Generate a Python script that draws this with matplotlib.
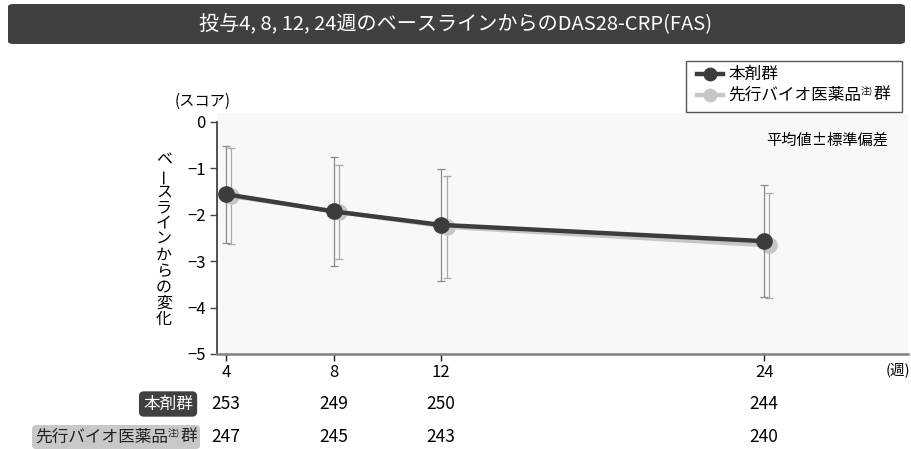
import matplotlib
matplotlib.use("Agg")
import matplotlib.pyplot as plt
import numpy as np
from matplotlib.patches import FancyBboxPatch, Rectangle
from matplotlib.lines import Line2D
from matplotlib.offsetbox import TextArea, HPacker, AnnotationBbox
from matplotlib.transforms import blended_transform_factory

plt.rcParams['font.family'] = ['Noto Sans CJK JP', 'DejaVu Sans']

# data
weeks = [4, 8, 12, 24]
drug_mean = [-1.56, -1.93, -2.22, -2.57]
drug_sd = [1.05, 1.17, 1.21, 1.20]
ref_mean = [-1.60, -1.94, -2.26, -2.66]
ref_sd = [1.04, 1.01, 1.10, 1.13]
drug_n = [253, 249, 250, 244]
ref_n = [247, 245, 243, 240]

title = "投与4, 8, 12, 24週のベースラインからのDAS28-CRP(FAS)"
drug_label = "本剤群"
ref_label = ("先行バイオ医薬品", "注)", "群")
ylabel = "ベースラインからの変化"

W, H = 912, 449
dark = '#3c3c3c'
light = '#c6c6c6'


def fx(x):
    return x / W


def fy(y):
    return 1 - y / H


fig = plt.figure(figsize=(W / 100, H / 100), dpi=100)

# title bar
fig.patches.append(FancyBboxPatch((fx(8), fy(44)), fx(897), 40 / H,
                                  boxstyle="round,pad=0,rounding_size=0.006",
                                  transform=fig.transFigure, fc='#404040', ec='none'))
fig.text(0.5, fy(25), title, color='white', fontsize=14.5, ha='center', va='center')

# main axes
ax = fig.add_axes([fx(217), fy(354), fx(908 - 217), (354 - 113) / H])
ax.set_facecolor('#f8f8f8')
ax.set_xlim(3.665, 29.35)
ax.set_ylim(-5, 0.19)

off = 0.2  # small dodge for the comparator series
ref_x = np.array(weeks) + off
ax.errorbar(ref_x, ref_mean, yerr=ref_sd, color=light, lw=3.2, marker='o', ms=11,
            ecolor='#a8a8a8', elinewidth=0.9, capsize=3, capthick=0.9, zorder=2)
ax.errorbar(weeks, drug_mean, yerr=drug_sd, color=dark, lw=3.2, marker='o', ms=11,
            ecolor='#8a8a8a', elinewidth=0.9, capsize=3, capthick=0.9, zorder=3)

for s in ['top', 'right']:
    ax.spines[s].set_visible(False)
ax.spines['left'].set_bounds(-5, 0)
ax.spines['left'].set_color('#444444')
ax.spines['left'].set_linewidth(1.3)
ax.spines['bottom'].set_color('#808080')
ax.spines['bottom'].set_linewidth(1.8)

ax.set_yticks([0, -1, -2, -3, -4, -5])
ax.set_yticklabels(['0', '\u22121', '\u22122', '\u22123', '\u22124', '\u22125'])
ax.set_xticks(weeks)
ax.tick_params(axis='y', length=5, width=1, color='#444444', labelsize=12, pad=3)
ax.tick_params(axis='x', length=5, width=1, color='#222222', labelsize=12, pad=2)

fig.text(fx(175), fy(101), "(スコア)", fontsize=11, ha='left', va='center')
fig.text(fx(898), fy(371), "(週)", fontsize=10.5, ha='center', va='center')
fig.text(fx(888), fy(140), "平均値±標準偏差", fontsize=11, ha='right', va='center')

# vertical y label, one character at a time; the long vowel mark is turned upright
pitch = 15.9
for i, ch in enumerate(ylabel):
    rot = 90 if ch == "ー" else 0
    fig.text(fx(164), fy(160 + i * pitch), ch, fontsize=11.5, ha='center', va='center',
             rotation=rot)


def sup_label(fs, color):
    parts = [TextArea(ref_label[0], textprops=dict(fontsize=fs, color=color)),
             TextArea(ref_label[1], textprops=dict(fontsize=fs * 0.55, color=color)),
             TextArea(ref_label[2], textprops=dict(fontsize=fs, color=color))]
    return HPacker(children=parts, align='top', pad=0, sep=0)


# legend (drawn by hand)
fig.patches.append(Rectangle((fx(686), fy(112)), fx(902 - 686), (112 - 61) / H,
                             transform=fig.transFigure, fc='white', ec='#555555', lw=1))
for yy, col in [(74, dark), (95, light)]:
    fig.lines.append(Line2D([fx(697), fx(723)], [fy(yy), fy(yy)], color=col, lw=3.2,
                            transform=fig.transFigure))
    fig.lines.append(Line2D([fx(710)], [fy(yy)], color=col, marker='o', ms=9,
                            transform=fig.transFigure))
fig.text(fx(728), fy(74), drug_label, fontsize=12, ha='left', va='center')
fig.add_artist(AnnotationBbox(sup_label(12, 'black'), (fx(728), fy(95)),
                              xycoords='figure fraction', box_alignment=(0, 0.5),
                              frameon=False))

# number-at-risk table
tr = blended_transform_factory(ax.transData, fig.transFigure)
for w, a, b in zip(weeks, drug_n, ref_n):
    ax.text(w, fy(404), str(a), transform=tr, fontsize=12.5, ha='center', va='center')
    ax.text(w, fy(437), str(b), transform=tr, fontsize=12.5, ha='center', va='center')

fig.text(fx(193), fy(404), drug_label, fontsize=12, color='white', ha='right', va='center',
         bbox=dict(boxstyle='round,pad=0.25,rounding_size=0.3', fc='#404040', ec='none'))
fig.add_artist(AnnotationBbox(sup_label(12, '#222222'), (fx(197), fy(437)),
                              xycoords='figure fraction', box_alignment=(1, 0.5),
                              pad=0.25,
                              bboxprops=dict(boxstyle='round,pad=0.25,rounding_size=0.3',
                                             fc='#c8c8c8', ec='none')))

fig.savefig('out.png', dpi=100)
